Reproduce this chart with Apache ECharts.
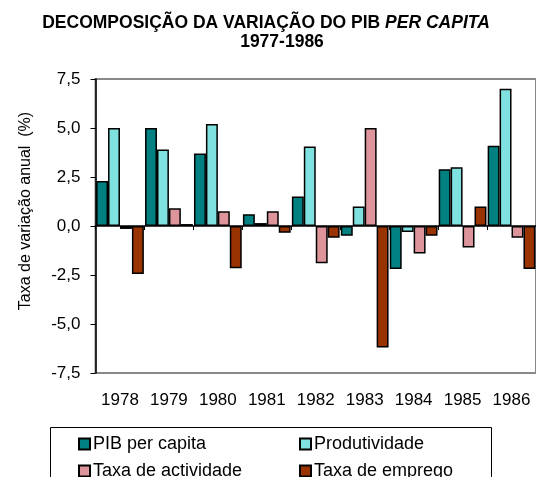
<!DOCTYPE html>
<html>
<head>
<meta charset="utf-8">
<script src="https://cdn.jsdelivr.net/npm/echarts@6/dist/echarts.min.js"></script>
<style>
  * { margin: 0; padding: 0; }
  body { background: #fff; }
  #chart { width: 536px; height: 477px; }
</style>
</head>
<body>
<div id="chart"></div>
<script>
// dados
var years = ['1978', '1979', '1980', '1981', '1982', '1983', '1984', '1985', '1986'];
var pibPerCapita = [2.3, 5.0, 3.7, 0.6, 1.5, -0.5, -2.2, 2.9, 4.1];
var produtividade = [5.0, 3.9, 5.2, 0.15, 4.05, 1.0, -0.3, 3.0, 7.0];
var taxaActividade = [-0.15, 0.9, 0.75, 0.75, -1.9, 5.0, -1.4, -1.1, -0.6];
var taxaEmprego = [-2.45, 0.1, -2.15, -0.35, -0.6, -6.2, -0.5, 1.0, -2.2];
var yTicks = [-7.5, -5.0, -2.5, 0.0, 2.5, 5.0, 7.5];

var font = 'Liberation Sans, Arial, sans-serif';
var chart = echarts.init(document.getElementById('chart'));

function barSerie(name, data, color) {
  return {
    name: name,
    type: 'bar',
    data: data,
    xAxisIndex: 0,
    barGap: '0%',
    barCategoryGap: '2.4%',
    itemStyle: { color: color, borderColor: '#000', borderWidth: 1.5 }
  };
}

function legendCol(left, names) {
  return {
    orient: 'vertical', left: left, top: 435, height: 60,
    padding: 0, itemGap: 9,
    itemWidth: 11, itemHeight: 11, icon: 'rect',
    textStyle: { fontFamily: font, fontSize: 18, lineHeight: 17, color: '#000', padding: [0, 0, 0, -2] },
    data: names
  };
}

chart.setOption({
  animation: false,
  textStyle: { fontFamily: font },
  title: [
    {
      text: 'DECOMPOSIÇÃO DA VARIAÇÃO DO PIB {i|PER CAPITA}',
      left: 266, top: 14, textAlign: 'center', padding: 0,
      textStyle: {
        fontFamily: font, fontSize: 17.5, fontWeight: 'bold', color: '#000',
        rich: { i: { fontFamily: font, fontSize: 17.5, fontWeight: 'bold', fontStyle: 'italic', color: '#000' } }
      }
    },
    {
      text: '1977-1986',
      left: 282, top: 33, textAlign: 'center', padding: 0,
      textStyle: { fontFamily: font, fontSize: 17.5, fontWeight: 'bold', color: '#000' }
    }
  ],
  grid: {
    left: 95.5, top: 79, right: -2, bottom: 104,
    show: true, borderColor: '#888', borderWidth: 2
  },
  legend: [
    legendCol(78, ['PIB per capita', 'Taxa de actividade']),
    legendCol(299, ['Produtividade', 'Taxa de emprego'])
  ],
  graphic: [
    {
      type: 'rect',
      shape: { x: 50.5, y: 427.5, width: 441, height: 60 },
      style: { fill: 'none', stroke: '#000', lineWidth: 1 },
      silent: true
    }
  ],
  xAxis: [
    {
      type: 'category',
      data: years,
      position: 'bottom',
      axisLine: { onZero: false, show: false },
      axisTick: { show: false },
      axisLabel: { fontFamily: font, fontSize: 17, color: '#000', margin: 19, interval: 0 }
    },
    {
      type: 'category',
      data: years,
      position: 'bottom',
      axisLine: { onZero: true, lineStyle: { color: '#000', width: 1.5 } },
      axisTick: { show: true, length: 4, lineStyle: { color: '#000' } },
      axisLabel: { show: false }
    }
  ],
  yAxis: {
    type: 'value',
    min: -7.5, max: 7.5, interval: 2.5,
    name: 'Taxa de variação anual  (%)',
    nameLocation: 'middle',
    nameGap: 62,
    nameTextStyle: { fontFamily: font, fontSize: 16, color: '#000', padding: [0, 0, 0, 30] },
    axisLine: { show: true, lineStyle: { color: '#000', width: 1.5 } },
    axisTick: { show: true, length: 5, lineStyle: { color: '#000' } },
    splitLine: { show: false },
    axisLabel: {
      fontFamily: font, fontSize: 17, color: '#000', margin: 15,
      formatter: function (v) {
        return yTicks.indexOf(v) >= 0 ? v.toFixed(1).replace('.', ',') : '';
      }
    }
  },
  series: [
    barSerie('PIB per capita', pibPerCapita, '#008080'),
    barSerie('Produtividade', produtividade, '#80e2e0'),
    barSerie('Taxa de actividade', taxaActividade, '#dd959b'),
    barSerie('Taxa de emprego', taxaEmprego, '#993300')
  ]
});
</script>
</body>
</html>
